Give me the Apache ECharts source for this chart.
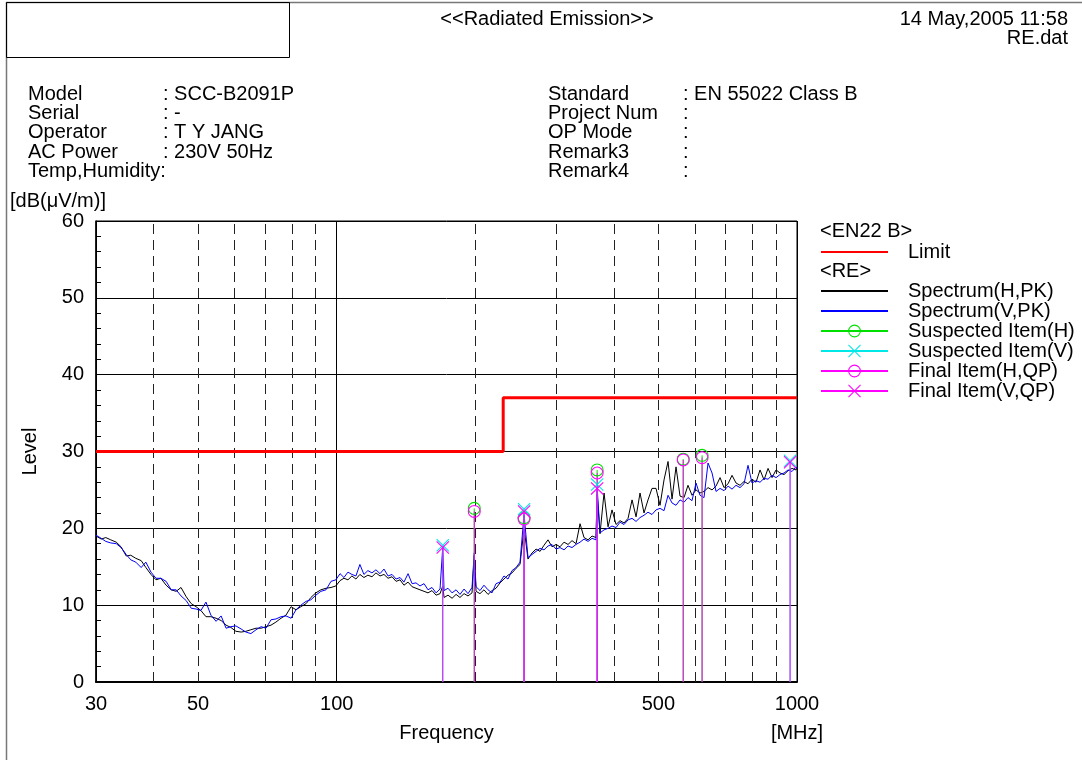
<!DOCTYPE html>
<html><head><meta charset="utf-8">
<script src="https://cdn.jsdelivr.net/npm/echarts@6/dist/echarts.min.js"></script>
<style>html,body{margin:0;padding:0;background:#fff}#c{width:1082px;height:760px}</style>
</head><body><div id="c"></div>
<script>
// ---------------- DATA ----------------
const freqMHz = [
  30.0,30.8,31.5,32.3,33.2,34.0,34.9,35.7,36.6,37.6,38.5,39.5,40.5,41.5,42.6,43.7,44.8,45.9,47.1,48.3,
  49.5,50.7,52.0,53.3,54.7,56.1,57.5,58.9,60.4,62.0,63.5,65.1,66.8,68.5,70.2,72.0,73.8,75.7,77.6,79.6,
  81.6,83.6,85.8,87.9,90.1,92.4,94.8,97.2,99.6,
  101.7,103.7,105.8,107.9,110.1,112.3,114.6,116.9,119.3,121.7,124.2,126.7,129.3,131.9,134.6,137.3,140.0,
  142.9,145.8,148.7,151.7,154.8,157.9,161.1,164.4,167.7,170.0,171.1,174.5,178.1,181.7,185.3,189.1,192.9,
  196.8,199.0,200.8,
  204.8,208.9,213.2,217.5,221.9,226.4,230.9,235.6,240.4,245.3,250.2,255.3,260.4,265.7,271.1,276.6,282.1,
  287.8,293.6,299.6,305.6,311.8,318.1,324.5,331.1,337.8,344.6,351.6,358.7,365.9,368.0,373.3,380.9,388.6,
  396.4,404.5,412.6,421.0,429.5,438.2,447.1,456.0,465.2,474.6,484.2,494.0,504.0,514.2,524.6,535.2,546.0,
  557.0,568.3,579.7,591.5,603.4,615.6,628.1,640.8,653.8,667.0,680.5,694.2,708.3,722.5,737.1,752.0,767.2,
  782.7,798.5,814.7,831.2,848.0,865.2,882.6,900.5,918.7,937.3,956.2,975.5,995.0,1000
];
const levelH = [
  19.0,18.6,18.8,18.5,18.2,17.6,16.4,16.5,16.1,15.8,14.9,14.0,13.3,13.5,12.6,12.0,11.8,12.3,11.1,10.2,
  9.8,9.3,8.5,8.5,8.3,8.0,7.4,7.1,6.6,6.5,6.6,6.8,7.0,7.0,7.2,7.4,7.8,8.3,8.7,9.8,
  9.4,9.8,10.2,11.0,11.6,12.0,12.2,12.3,12.5,
  13.2,13.5,13.3,13.8,13.4,14.0,13.6,13.9,13.7,14.2,13.8,14.0,13.5,13.7,13.1,13.3,12.6,
  13.0,12.4,12.2,12.0,11.8,11.6,11.9,11.3,11.5,12.5,11.0,11.3,10.9,11.4,11.0,11.5,11.2,
  11.6,16.5,11.8,
  11.5,12.0,11.4,11.9,12.2,12.9,13.4,13.9,14.2,14.8,15.3,20.0,16.0,16.8,17.3,17.0,17.8,
  18.5,17.6,17.9,17.6,18.2,17.9,18.4,18.0,20.6,18.8,18.5,19.0,18.8,24.5,19.3,24.6,20.2,
  22.4,20.5,21.0,20.7,21.3,23.7,21.5,24.6,22.0,23.7,25.2,25.2,23.0,26.3,28.7,23.8,28.0,
  24.2,24.0,25.6,24.3,25.0,24.6,24.8,25.3,25.0,25.5,26.6,25.3,25.8,26.9,25.9,25.6,26.1,
  25.8,26.4,26.0,27.6,26.3,27.8,26.6,27.6,27.2,27.0,27.5,27.8,27.6,27.9
];
const levelV = [
  19.1,18.7,18.3,18.1,18.0,17.5,16.6,15.9,15.6,14.9,15.6,14.3,13.5,13.5,13.1,12.0,12.0,11.2,10.6,9.6,
  9.5,9.3,10.4,8.7,7.9,8.6,7.0,7.2,7.3,6.9,6.5,6.3,6.8,7.2,7.0,8.1,8.2,8.5,8.6,8.3,
  9.4,10.0,10.5,10.7,11.3,11.8,12.0,13.1,13.3,
  14.1,13.6,14.3,14.0,13.8,15.3,14.0,14.5,14.2,14.6,14.1,14.7,13.8,14.0,13.4,13.6,13.0,
  14.1,12.8,12.9,12.5,12.8,12.0,12.3,11.6,12.1,17.6,11.9,12.2,11.6,12.0,11.4,12.1,11.5,
  12.3,16.8,12.4,
  11.9,12.6,12.0,11.6,12.8,13.0,13.8,13.4,14.5,14.9,15.6,21.8,16.2,16.6,17.0,17.4,17.2,
  17.7,17.9,17.3,17.5,17.2,17.7,17.5,17.9,18.2,18.6,18.3,18.7,18.5,25.3,19.4,19.8,20.0,
  20.3,20.1,20.8,20.5,21.1,21.3,20.9,21.4,21.7,22.1,21.8,22.4,22.6,22.3,24.3,23.3,23.0,
  23.7,23.4,24.0,23.6,25.9,24.3,24.0,28.5,27.2,24.8,25.2,24.9,25.5,25.1,25.6,25.3,25.8,
  28.2,25.9,26.2,26.0,26.5,26.4,26.9,26.6,27.0,27.2,27.6,27.4,28.0,27.8
];
const limitFreq  = [30, 230, 230, 1000];
const limitLevel = [30, 30, 37, 37];
const suspHFreq  = [199.0, 255.3, 368.0, 566, 622];
const suspHLevel = [22.6, 21.4, 27.6, 29.0, 29.5];
const suspVFreq  = [170.0, 255.3, 368.0, 966];
const suspVLevel = [17.8, 22.5, 25.7, 28.8];
const finalHFreq  = [199.0, 255.3, 368.0, 566, 622];
const finalHLevel = [22.2, 21.2, 27.2, 28.9, 29.2];
const finalVFreq  = [170.0, 255.3, 368.0, 966];
const finalVLevel = [17.5, 22.2, 25.2, 28.6];
const xTickLabels = [30, 50, 100, 500, 1000];
const xGridDashed = [40, 50, 60, 70, 80, 90, 200, 300, 400, 500, 600, 700, 800, 900];
const xGridSolid  = [30, 100, 1000];
const infoLeftLabels  = ['Model','Serial','Operator','AC Power','Temp,Humidity:'];
const infoLeftValues  = [': SCC-B2091P',': -',': T Y JANG',': 230V 50Hz',''];
const infoRightLabels = ['Standard','Project Num','OP Mode','Remark3','Remark4'];
const infoRightValues = [': EN 55022 Class B',':',':',':',':'];

// ---------------- BUILD ----------------
const FONT = 'Liberation Sans, Arial, sans-serif';
const FS = 20;
const ring = 'path://M12,6A6,6 0 1,1 0,6A6,6 0 1,1 12,6ZM11,6A5,5 0 1,0 1,6A5,5 0 1,0 11,6Z';
const cross = 'path://M0,0.7L0.7,0L12,11.3L11.3,12ZM11.3,0L12,0.7L0.7,12L0,11.3Z';

function stems(freqs, levels) {
  const d = [];
  freqs.forEach((f, i) => {
    d.push({ value: [f, 0], symbol: 'none' });
    d.push({ value: [f, levels[i]] });
    d.push({ value: [f, '-'], symbol: 'none' });
  });
  return d;
}

const gridLines = [];
xGridDashed.forEach(v => gridLines.push({
  xAxis: v,
  lineStyle: { color: '#222', width: 1, type: [10, 6] },
  label: { show: xTickLabels.includes(v) }
}));
xGridSolid.forEach(v => gridLines.push({
  xAxis: v,
  lineStyle: { color: '#000', width: 1, type: 'solid' },
  label: { show: xTickLabels.includes(v) }
}));

function itemSeries(name, color, symbol, freqs, levels) {
  return {
    name, type: 'line', data: stems(freqs, levels),
    symbol, symbolSize: 13, connectNulls: false,
    lineStyle: { color, width: 1 }, itemStyle: { color },
    z: 5
  };
}

const texts = [];
function txt(t, x, y, align) {
  texts.push({ type: 'text', x, y, silent: true, style: {
    text: t, font: FS + 'px ' + FONT, fill: '#000', textAlign: align || 'left', textVerticalAlign: 'middle'
  }});
}
txt('<<Radiated Emission>>', 547, 19, 'center');
txt('14 May,2005 11:58', 1068, 19, 'right');
txt('RE.dat', 1068, 38, 'right');
const rowsY = [94, 113, 132, 152, 171];
infoLeftLabels.forEach((t, i) => txt(t, 28, rowsY[i]));
infoLeftValues.forEach((t, i) => { if (t) txt(t, 163, rowsY[i]); });
infoRightLabels.forEach((t, i) => txt(t, 548, rowsY[i]));
infoRightValues.forEach((t, i) => txt(t, 683, rowsY[i]));
txt('[dB(\u03bcV/m)]', 10, 201);
txt('<EN22 B>', 820, 231);
txt('<RE>', 820, 271);
txt('[MHz]', 797, 733, 'center');

const frame = [
  { type: 'line', silent: true, shape: { x1: 6, y1: 2.5, x2: 1082, y2: 2.5 }, style: { stroke: '#777', lineWidth: 1.5 } },
  { type: 'line', silent: true, shape: { x1: 6.5, y1: 2, x2: 6.5, y2: 760 }, style: { stroke: '#777', lineWidth: 1.5 } },
  { type: 'rect', silent: true, shape: { x: 6.5, y: 2.5, width: 283, height: 55 }, style: { fill: 'none', stroke: '#000', lineWidth: 1 } }
];

const legendText = { fontSize: FS, color: '#000', fontFamily: FONT, padding: [0, 0, 0, 15] };
const noSym = { opacity: 0 };

const option = {
  animation: false,
  backgroundColor: '#fff',
  grid: { left: 96, right: 285, top: 221, bottom: 78, show: true, borderColor: '#000', borderWidth: 1 },
  xAxis: {
    type: 'log', logBase: 10, min: 30, max: 1000,
    name: 'Frequency', nameLocation: 'middle', nameGap: 41,
    nameTextStyle: { fontSize: FS, color: '#000', fontFamily: FONT },
    axisLine: { show: true, lineStyle: { color: '#000', width: 2 } },
    axisTick: { show: false }, axisLabel: { show: false },
    splitLine: { show: false }, minorTick: { show: false }, minorSplitLine: { show: false }
  },
  yAxis: {
    type: 'value', min: 0, max: 60, interval: 10,
    name: 'Level', nameLocation: 'middle', nameGap: 56, nameRotate: 90,
    nameTextStyle: { fontSize: FS, color: '#000', fontFamily: FONT },
    axisLine: { show: true, lineStyle: { color: '#000', width: 1.5 } },
    axisTick: { show: true, inside: true, length: 5, lineStyle: { color: '#000' } },
    minorTick: { show: true, splitNumber: 5, length: 5, lineStyle: { color: '#000' } },
    axisLabel: { fontSize: FS, color: '#000', fontFamily: FONT, margin: 12 },
    splitLine: { show: true, lineStyle: { color: '#000', width: 1 } }
  },
  legend: [
    { orient: 'vertical', left: 815, top: 237, itemWidth: 67, itemHeight: 16, itemGap: 0,
      data: [{ name: 'Limit', itemStyle: noSym }], textStyle: legendText, selectedMode: false },
    { orient: 'vertical', left: 815, top: 276, itemWidth: 67, itemHeight: 16, itemGap: 0,
      data: [
        { name: 'Spectrum(H,PK)', itemStyle: noSym },
        { name: 'Spectrum(V,PK)', itemStyle: noSym },
        'Suspected Item(H)', 'Suspected Item(V)', 'Final Item(H,QP)', 'Final Item(V,QP)'
      ],
      textStyle: legendText, selectedMode: false }
  ],
  graphic: frame.concat(texts),
  series: [
    {
      name: 'Limit', type: 'line', symbol: 'none', z: 4,
      data: limitFreq.map((f, i) => [f, limitLevel[i]]),
      lineStyle: { color: '#ff0000', width: 3 }, itemStyle: { color: '#ff0000' },
      markLine: {
        silent: true, symbol: 'none', animation: false, z: 1,
        label: { position: 'start', distance: 12, color: '#000', fontSize: FS, fontFamily: FONT,
                 formatter: p => String(p.value) },
        data: gridLines
      }
    },
    { name: 'Spectrum(H,PK)', type: 'line', symbol: 'none', z: 3,
      data: freqMHz.map((f, i) => [f, levelH[i]]),
      lineStyle: { color: '#000000', width: 1 }, itemStyle: { color: '#000000' } },
    { name: 'Spectrum(V,PK)', type: 'line', symbol: 'none', z: 3,
      data: freqMHz.map((f, i) => [f, levelV[i]]),
      lineStyle: { color: '#0000ff', width: 1 }, itemStyle: { color: '#0000ff' } },
    itemSeries('Suspected Item(H)', '#00e000', ring, suspHFreq, suspHLevel),
    itemSeries('Suspected Item(V)', '#00e8e8', cross, suspVFreq, suspVLevel),
    itemSeries('Final Item(H,QP)', '#ff00ff', ring, finalHFreq, finalHLevel),
    itemSeries('Final Item(V,QP)', '#ff00ff', cross, finalVFreq, finalVLevel)
  ]
};
const chart = echarts.init(document.getElementById('c'), null, { renderer: 'canvas' });
chart.setOption(option);
</script>
</body></html>
